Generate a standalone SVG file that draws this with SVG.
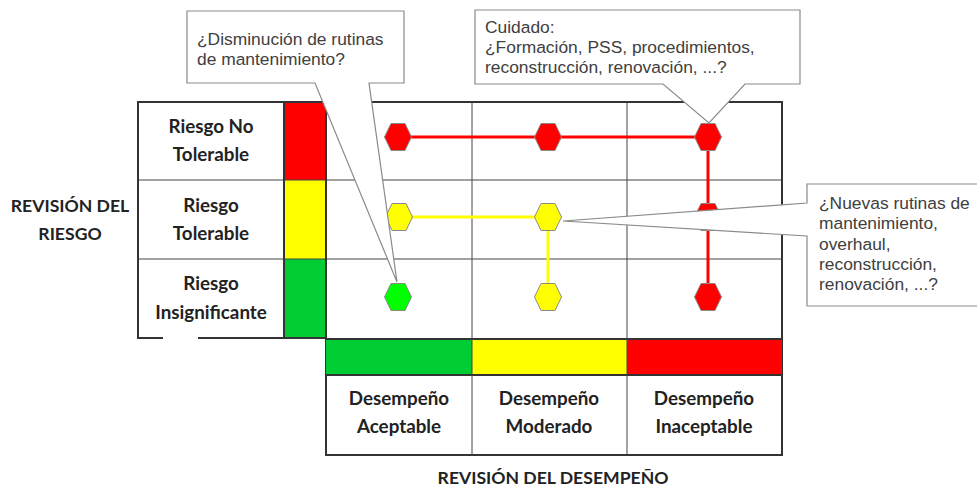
<svg xmlns="http://www.w3.org/2000/svg" width="977" height="489" viewBox="0 0 977 489">
<style>
.lbl{font-family:"Lato","Liberation Sans",sans-serif;font-weight:bold;font-size:18.8px;fill:#222;text-anchor:middle}
.ax{font-family:"Lato","Liberation Sans",sans-serif;font-weight:bold;font-size:17.6px;fill:#222;text-anchor:middle}
.ct{font-family:"Liberation Sans",Arial,sans-serif;font-size:17.4px;fill:#404040}
.thin{stroke:#444;stroke-width:1;fill:none}
.thick{stroke:#333;stroke-width:2;fill:none}
.call{fill:#fff;stroke:#8a8a8a;stroke-width:1.2}
.hex{stroke:#8a8a8a;stroke-width:1}
</style>
<defs>
<polygon id="hx" points="-13.5,0 -7,-13.5 7,-13.5 13.5,0 7,13.5 -7,13.5"/>
</defs>
<rect width="977" height="489" fill="#fff"/>

<g id="axis-risk">
<text class="ax" x="70" y="212">REVISIÓN DEL</text>
<text class="ax" x="70" y="240">RIESGO</text>
</g>
<g id="axis-performance">
<text class="ax" x="553" y="484">REVISIÓN DEL DESEMPEÑO</text>
</g>

<g id="risk-table">
<rect x="284" y="102" width="42" height="78" fill="#ff0000"/>
<rect x="284" y="180" width="42" height="79" fill="#ffff00"/>
<rect x="284" y="259" width="42" height="79" fill="#00cc33"/>
<line class="thin" x1="138" y1="180" x2="782" y2="180"/>
<line class="thin" x1="138" y1="259" x2="782" y2="259"/>
<line class="thick" x1="284" y1="102" x2="284" y2="338"/>
<line class="thick" x1="138" y1="101" x2="138" y2="339"/>
<line class="thick" x1="137" y1="338" x2="163" y2="338"/>
<line class="thick" x1="198" y1="338" x2="326" y2="338"/>
<text class="lbl" x="211" y="133">Riesgo No</text>
<text class="lbl" x="211" y="161">Tolerable</text>
<text class="lbl" x="211" y="212">Riesgo</text>
<text class="lbl" x="211" y="240">Tolerable</text>
<text class="lbl" x="211" y="290">Riesgo</text>
<text class="lbl" x="211" y="319">Insignificante</text>
</g>

<g id="grid">
<line class="thin" x1="472" y1="102" x2="472" y2="339"/>
<line class="thin" x1="627" y1="102" x2="627" y2="339"/>
<line class="thick" x1="137" y1="102" x2="783" y2="102"/>
<line class="thick" x1="782" y1="102" x2="782" y2="456"/>
<line class="thick" x1="326" y1="102" x2="326" y2="456"/>
</g>

<g id="performance-table">
<rect x="326" y="339" width="146" height="36" fill="#00cc33"/>
<rect x="472" y="339" width="155" height="36" fill="#ffff00"/>
<rect x="627" y="339" width="155" height="36" fill="#ff0000"/>
<line class="thick" x1="325" y1="339" x2="783" y2="339"/>
<line class="thick" x1="325" y1="375" x2="783" y2="375"/>
<line class="thick" x1="325" y1="455" x2="783" y2="455"/>
<line class="thin" x1="472" y1="339" x2="472" y2="455"/>
<line class="thin" x1="627" y1="339" x2="627" y2="455"/>
<text class="lbl" x="399" y="405">Desempeño</text>
<text class="lbl" x="399" y="433">Aceptable</text>
<text class="lbl" x="549" y="405">Desempeño</text>
<text class="lbl" x="549" y="433">Moderado</text>
<text class="lbl" x="704" y="405">Desempeño</text>
<text class="lbl" x="704" y="433">Inaceptable</text>
</g>

<g id="connectors">
<line x1="398" y1="137" x2="708" y2="137" stroke="#ff0000" stroke-width="3"/>
<line x1="708" y1="137" x2="708" y2="297" stroke="#ff0000" stroke-width="3"/>
<line x1="398" y1="217" x2="548" y2="217" stroke="#ffff00" stroke-width="3"/>
<line x1="548" y1="217" x2="548" y2="297" stroke="#ffff00" stroke-width="3"/>
</g>

<g id="hex-r1c1"><use href="#hx" x="398" y="137" class="hex" fill="#ff0000"/></g>
<g id="hex-r1c2"><use href="#hx" x="548" y="137" class="hex" fill="#ff0000"/></g>
<g id="hex-r1c3"><use href="#hx" x="708" y="137" class="hex" fill="#ff0000"/></g>
<g id="hex-r2c1"><use href="#hx" x="399" y="217" class="hex" fill="#ffff00"/></g>
<g id="hex-r2c2"><use href="#hx" x="548" y="217" class="hex" fill="#ffff00"/></g>
<g id="hex-r2c3"><use href="#hx" x="708" y="217" class="hex" fill="#ff0000"/></g>
<g id="hex-r3c1"><use href="#hx" x="398" y="297" class="hex" fill="#00ff00"/></g>
<g id="hex-r3c2"><use href="#hx" x="548" y="297" class="hex" fill="#ffff00"/></g>
<g id="hex-r3c3"><use href="#hx" x="708" y="297" class="hex" fill="#ff0000"/></g>

<g id="callout-disminucion">
<path class="call" d="M187,11 H404 V83 H369 L397,282 L315,83 H187 Z"/>
<text class="ct" x="197" y="45">¿Disminución de rutinas</text>
<text class="ct" x="197" y="65">de mantenimiento?</text>
</g>
<g id="callout-cuidado">
<path class="call" d="M475,10 H800 V84 H745 L709,123 L663,84 H475 Z"/>
<text class="ct" x="485" y="33">Cuidado:</text>
<text class="ct" x="485" y="53">¿Formación, PSS, procedimientos,</text>
<text class="ct" x="485" y="73">reconstrucción, renovación, ...?</text>
</g>
<g id="callout-nuevas">
<path class="call" d="M807,184 H990 V306 H807 V236 L563,221 L807,203 Z"/>
<text class="ct" x="819" y="209">¿Nuevas rutinas de</text>
<text class="ct" x="819" y="229">mantenimiento,</text>
<text class="ct" x="819" y="250">overhaul,</text>
<text class="ct" x="819" y="270">reconstrucción,</text>
<text class="ct" x="819" y="290">renovación, ...?</text>
</g>
</svg>
